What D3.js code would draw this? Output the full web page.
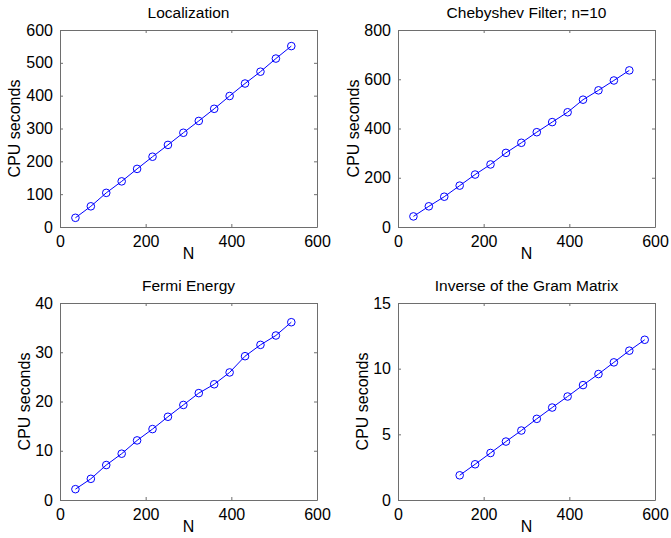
<!DOCTYPE html>
<html>
<head>
<meta charset="utf-8">
<script src="https://cdn.jsdelivr.net/npm/d3@7"></script>
<style>
  body { margin: 0; background: #fff; }
  svg text { font-family: "Liberation Sans", Arial, sans-serif; fill: #000; }
</style>
</head>
<body>
<svg id="fig" width="671" height="538"></svg>
<script>
// N values (x) and CPU seconds (y) for each panel
var nMain = [36, 72, 108, 144, 180, 216, 252, 288, 324, 360, 396, 432, 468, 504, 540];
var nGram = [144, 180, 216, 252, 288, 324, 360, 396, 432, 468, 504, 540, 576];

var localization = [28, 63, 104, 139, 177, 214, 250, 287, 323, 360, 399, 437, 473, 513, 551];
var chebyshev = [43, 84, 123, 168, 213, 254, 301, 342, 385, 426, 466, 517, 555, 595, 636];
var fermi = [2.2, 4.3, 7.1, 9.4, 12.1, 14.4, 16.9, 19.3, 21.7, 23.5, 25.9, 29.2, 31.5, 33.4, 36.1];
var gram = [1.88, 2.72, 3.58, 4.45, 5.29, 6.18, 7.04, 7.88, 8.75, 9.59, 10.48, 11.37, 12.2];

var xTicks = [0, 200, 400, 600];
var titles = ["Localization", "Chebyshev Filter; n=10", "Fermi Energy", "Inverse of the Gram Matrix"];

var panels = [
  { title: titles[0], x: nMain, y: localization, ymax: 600, yTicks: [0, 100, 200, 300, 400, 500, 600], left: 60, top: 30, labelOff: 40 },
  { title: titles[1], x: nMain, y: chebyshev, ymax: 800, yTicks: [0, 200, 400, 600, 800], left: 398, top: 30, labelOff: 39 },
  { title: titles[2], x: nMain, y: fermi, ymax: 40, yTicks: [0, 10, 20, 30, 40], left: 60, top: 303, labelOff: 30.5 },
  { title: titles[3], x: nGram, y: gram, ymax: 15, yTicks: [0, 5, 10, 15], left: 398, top: 303, labelOff: 30 }
];

var W = 257, H = 197;
var axisColor = "#6e6e6e", lineColor = "#0000ff";
var svg = d3.select("#fig");

panels.forEach(function(p) {
  var g = svg.append("g").attr("transform", "translate(" + p.left + "," + p.top + ")");
  var x = d3.scaleLinear().domain([0, 600]).range([0, W]);
  var y = d3.scaleLinear().domain([0, p.ymax]).range([H, 0]);

  // bottom / left axes with labels, ticks pointing inward
  var bottom = g.append("g").attr("transform", "translate(0," + H + ")")
    .call(d3.axisBottom(x).tickValues(xTicks).tickSizeInner(-3).tickSizeOuter(0).tickPadding(9));
  var left = g.append("g")
    .call(d3.axisLeft(y).tickValues(p.yTicks).tickSizeInner(-3).tickSizeOuter(0).tickPadding(7));
  // top / right: ticks only
  var top = g.append("g")
    .call(d3.axisTop(x).tickValues(xTicks).tickSizeInner(-3).tickSizeOuter(0).tickFormat(""));
  var right = g.append("g").attr("transform", "translate(" + W + ",0)")
    .call(d3.axisRight(y).tickValues(p.yTicks).tickSizeInner(-3).tickSizeOuter(0).tickFormat(""));

  [bottom, left, top, right].forEach(function(a) {
    a.selectAll("path.domain").attr("stroke", axisColor);
    a.selectAll(".tick line").attr("stroke", axisColor);
    a.selectAll("text").style("font-size", "16px").attr("fill", "#000");
  });
  bottom.selectAll("text").attr("dy", "0.71em");

  // line + open circle markers
  var pts = p.x.map(function(d, i) { return [d, p.y[i]]; });
  g.append("path")
    .datum(pts)
    .attr("fill", "none")
    .attr("stroke", lineColor)
    .attr("stroke-width", 1)
    .attr("d", d3.line().x(function(d) { return x(d[0]); }).y(function(d) { return y(d[1]); }));

  g.selectAll("circle").data(pts).enter().append("circle")
    .attr("cx", function(d) { return x(d[0]); })
    .attr("cy", function(d) { return y(d[1]); })
    .attr("r", 3.8)
    .attr("fill", "none")
    .attr("stroke", lineColor)
    .attr("stroke-width", 1);

  g.append("text")
    .attr("x", W / 2).attr("y", -12)
    .attr("text-anchor", "middle")
    .style("font-size", "15.5px")
    .text(p.title);

  g.append("text")
    .attr("x", W / 2).attr("y", H + 32)
    .attr("text-anchor", "middle")
    .style("font-size", "16px")
    .text("N");

  g.append("text")
    .attr("transform", "translate(" + (-p.labelOff) + "," + (H / 2) + ") rotate(-90)")
    .attr("text-anchor", "middle")
    .style("font-size", "16px")
    .text("CPU seconds");
});
</script>
</body>
</html>
